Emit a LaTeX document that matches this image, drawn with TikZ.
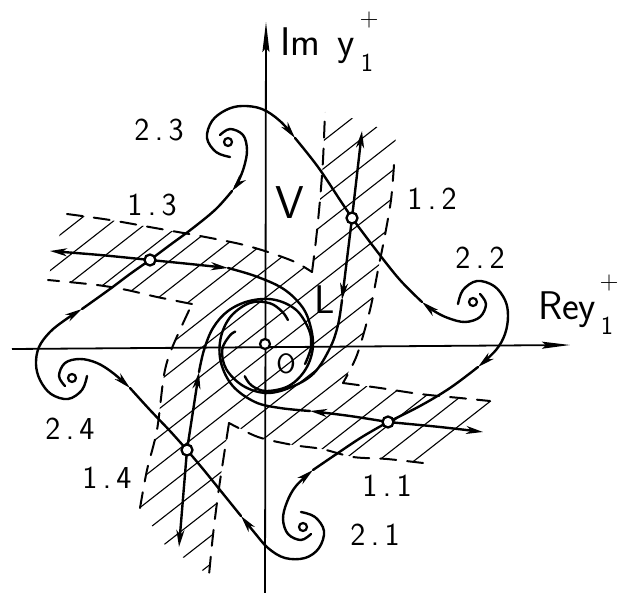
\documentclass[tikz,border=0pt]{standalone}
\usetikzlibrary{arrows.meta}
\begin{document}
\begin{tikzpicture}[x=1pt,y=-1pt,
  traj/.style={line width=2.4pt,line cap=round,line join=round},
  endarrow/.style={-{Stealth[length=17pt,width=8pt,inset=5pt]}},
  axisline/.style={line width=1.8pt},
  hatchline/.style={line width=1.1pt},
  bound/.style={line width=2pt,line cap=round,dash pattern=on 16pt off 11pt},
  eqpt/.style={circle,draw,line width=2.3pt,fill=white,inner sep=0pt,minimum size=11pt},
  focpt/.style={circle,draw,line width=2.2pt,fill=white,inner sep=0pt,minimum size=8pt},
  lab/.style={font=\sffamily\fontsize{32}{36}\selectfont,inner sep=0pt},
  biglab/.style={font=\sffamily\fontsize{40}{44}\selectfont,inner sep=0pt},
  sm/.style={font=\sffamily\fontsize{26}{30}\selectfont,inner sep=0pt},
]
\useasboundingbox[fill=white] (0,0) rectangle (621,593);
% equilibrium coordinates
\coordinate (s11) at (388,422);
\coordinate (s12) at (352,218);
\coordinate (s13) at (150,260);
\coordinate (s14) at (187,450);
\coordinate (f21) at (303,527);
\coordinate (f22) at (473,302);
\coordinate (f23) at (228,142);
\coordinate (f24) at (72,378);
\coordinate (O) at (265,344);
% hatched region
\begin{scope}
\clip (67,214) -- (110,220) -- (155,228) -- (200,236) -- (240,244) -- (268,252) -- (295,262) -- (312,272)
 -- (316,240) -- (320,200) -- (323,160) -- (325,112) -- (360,120) -- (396,135) -- (394,165)
 -- (391,200) -- (385,235) -- (378,270) -- (370,310) -- (357,355) -- (343,383)
 -- (380,388) -- (420,394) -- (460,398) -- (490,401) -- (505,406) -- (470,435) -- (423,463)
 -- (387,459) -- (353,457) -- (322,449) -- (293,445) -- (258,437) -- (229,423)
 -- (224,455) -- (218,495) -- (213,535) -- (209,575) -- (165,545) -- (140,508)
 -- (147,470) -- (157,430) -- (164,375) -- (172,348) -- (192,304)
 -- (157,297) -- (127,290) -- (97,285) -- (48,280) -- (55,248) -- cycle;
\foreach \k in {200,222,...,680}
  \draw[hatchline] ({\k*0.616-700*0.788},{\k*0.788+700*0.616}) -- ({\k*0.616+700*0.788},{\k*0.788-700*0.616});
\end{scope}
% dashed boundaries
\draw[bound] plot[smooth] coordinates {(67,214) (110,220) (155,228) (200,236) (240,244) (268,252) (295,262) (312,272)};
\draw[bound] plot[smooth] coordinates {(312,272) (316,240) (320,200) (323,160) (325,112)};
\draw[bound] plot[smooth] coordinates {(394,165) (391,200) (385,235) (378,270) (370,310) (357,355) (343,383)};
\draw[bound] plot[smooth] coordinates {(343,383) (380,388) (420,394) (460,398) (490,401)};
\draw[bound] plot[smooth] coordinates {(423,463) (387,459) (353,457) (322,449) (293,445) (258,437) (229,423)};
\draw[bound] plot[smooth] coordinates {(229,423) (224,455) (218,495) (213,535) (209,575)};
\draw[bound] plot[smooth] coordinates {(140,508) (147,470) (157,430) (164,375) (172,348) (192,304)};
\draw[bound] plot[smooth] coordinates {(192,304) (157,297) (127,290) (97,285) (48,280)};
% axes
\coordinate (xl) at (12,349); \coordinate (xr) at (570,345);
\coordinate (yb) at (265,593); \coordinate (yt) at (266,22);
\draw[axisline,-{Stealth[length=28pt,width=7pt,inset=4pt]}] (xl) -- (xr);
\draw[axisline,-{Stealth[length=30pt,width=7pt,inset=4pt]}] (yb) -- (yt);
% stable separatrices
\draw[traj,endarrow] plot[smooth,tension=0.6] coordinates {(230,157) (216,152) (207,138) (212,121) (226,110) (242,106) (262,109) (280,121) (295,138)};
\draw[traj] plot[smooth,tension=0.6] coordinates {(295,138) (318,167) (340,200) (s12)};
\draw[traj,endarrow] plot[smooth,tension=0.6] coordinates {(480,294) (486,304) (480,317) (465,322) (448,318) (434,311) (422,302)};
\draw[traj] plot[smooth,tension=0.6] coordinates {(422,302) (400,280) (376,250) (s12)};
\draw[traj,endarrow] plot[smooth,tension=0.6] coordinates {(220,135) (230,129) (243,135) (247,150) (244,167) (238,182) (232,191)};
\draw[traj] plot[smooth,tension=0.6] coordinates {(232,191) (216,209) (193,228) (170,245) (s13)};
\draw[traj,endarrow] plot[smooth,tension=0.6] coordinates {(87,376) (82,390) (68,399) (51,394) (40,380) (36,364) (39,347) (50,332) (65,320) (82,309)};
\draw[traj] plot[smooth,tension=0.6] coordinates {(82,309) (110,289) (130,274) (s13)};
\draw[traj,endarrow] plot[smooth,tension=0.6] coordinates {(65,386) (59,376) (65,363) (80,359) (97,363) (113,373) (130,388)};
\draw[traj] plot[smooth,tension=0.6] coordinates {(130,388) (150,410) (170,431) (s14)};
\draw[traj,endarrow] plot[smooth,tension=0.6] coordinates {(301,512) (315,517) (324,531) (319,548) (305,558) (285,558) (268,548) (254,532) (241,516)};
\draw[traj] plot[smooth,tension=0.6] coordinates {(241,516) (220,490) (203,469) (s14)};
\draw[traj,endarrow] plot[smooth,tension=0.6] coordinates {(311,534) (301,540) (288,534) (283,519) (287,502) (296,486) (313,470)};
\draw[traj] plot[smooth,tension=0.6] coordinates {(313,470) (335,455) (362,437) (s11)};
\draw[traj,endarrow] plot[smooth,tension=0.6] coordinates {(458,304) (463,290) (477,281) (494,286) (505,300) (508,316) (505,334) (496,350) (478,367)};
\draw[traj] plot[smooth,tension=0.6] coordinates {(478,367) (450,388) (420,406) (s11)};
% unstable separatrices
\draw[traj,endarrow] (s12) -- (362,131);
\draw[traj,endarrow] (s12) -- (342,300);
\draw[traj] plot[smooth,tension=0.6] coordinates {(342,300) (338,325) (330,348) (313.6,373.5) (290,387.6) (266,393) (243,385.8) (226.2,369) (222.2,349.8) (229.3,336.2) (235.2,331.6)};
\draw[traj,endarrow] plot[smooth] coordinates {(s13) (100,255) (50,251)};
\draw[traj,endarrow] plot[smooth] coordinates {(s13) (190,264) (228,268)};
\draw[traj] plot[smooth,tension=0.6] coordinates {(228,268) (255,276) (282,288) (300,304) (309,321) (313,346) (305.8,369) (289,385.8) (266,391) (251.6,385.5) (244.8,376.3)};
\draw[traj,endarrow] plot[smooth] coordinates {(s11) (440,427) (483,432)};
\draw[traj,endarrow] plot[smooth] coordinates {(s11) (350,416) (310,411)};
\draw[traj] plot[smooth,tension=0.6] coordinates {(310,411) (280,408) (255,402) (232.6,385.8) (220.9,362.4) (220.7,338) (230.8,316.4) (250.3,302.8) (269.7,303.2) (282.1,311.6) (287.9,320)};
\draw[traj,endarrow] (s14) -- (179,547);
\draw[traj,endarrow] (s14) -- (199,372);
\draw[traj] plot[smooth,tension=0.6] coordinates {(199,372) (204,350) (213,328) (228,311) (249.6,300.9) (274.2,299.7) (296.2,310) (309.2,330.3) (311,346) (308,357) (305,364)};
% equilibria
\node[eqpt] (n11) at (s11) {};
\node[eqpt] (n12) at (s12) {};
\node[eqpt] (n13) at (s13) {};
\node[eqpt] (n14) at (s14) {};
\node[focpt] (n21) at (f21) {};
\node[focpt] (n22) at (f22) {};
\node[focpt] (n23) at (f23) {};
\node[focpt] (n24) at (f24) {};
\node[focpt,minimum size=10pt] (nO) at (O) {};
% labels
\node[lab] (l23) at (159,130) {2\,.\,3};
\node[lab] (l13) at (152,205) {1\,.\,3};
\node[lab] (l12) at (432,199) {1\,.\,2};
\node[lab] (l22) at (480,258) {2\,.\,2};
\node[lab] (l11) at (387,486) {1\,.\,1};
\node[lab] (l21) at (375,535) {2\,.\,1};
\node[lab] (l24) at (70,429) {2\,.\,4};
\node[lab] (l14) at (107,478) {1\,.\,4};
\node[font=\sffamily\fontsize{46}{50}\selectfont,inner sep=0pt] (lV) at (290,203) {V};
\node[biglab] (lL) at (325,300) {L};
\node[font=\sffamily\fontsize{28}{32}\selectfont,inner sep=0pt] (lO) at (286,364) {O};
\node[biglab,anchor=base west] (lIm) at (280,56) {Im};
\node[biglab,anchor=base west] (lImy) at (337,56) {y};
\node[sm] (lImp) at (369,20) {+};
\node[sm] (lIm1) at (367,63) {1};
\node[biglab,anchor=base west] (lRe) at (538,320) {Re};
\node[biglab,anchor=base west] (lRey) at (578,320) {y};
\node[sm] (lRep) at (609,283) {+};
\node[sm] (lRe1) at (607,326) {1};
\end{tikzpicture}
\end{document}
